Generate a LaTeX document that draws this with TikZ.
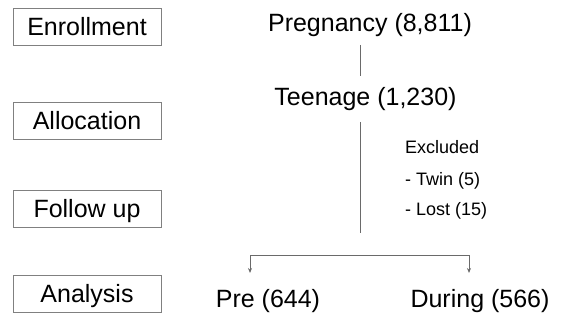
\documentclass[tikz,border=0pt]{standalone}
\usepackage{fontspec}
\setmainfont{Liberation Sans}
\usepackage{tikz}
\usetikzlibrary{arrows.meta}
\definecolor{grigio}{HTML}{808080}
\definecolor{linea}{HTML}{6A6A6A}

\begin{document}
\begin{tikzpicture}[x=1pt, y=-1pt,
    fase/.style={draw=grigio, line width=0.8pt, minimum width=148pt, minimum height=37pt,
        inner sep=0pt, text height=18pt, text depth=0pt, font=\fontsize{25}{30}\selectfont},
    voce/.style={anchor=base, inner sep=0pt, font=\fontsize{25}{30}\selectfont},
    nota/.style={anchor=base west, inner sep=0pt, font=\fontsize{18}{22}\selectfont},
    ramo/.style={draw=linea, line width=0.8pt}]

        % Cornice (dimensioni del riferimento)
        \useasboundingbox (0,0) rectangle (562,320);

        % Fasi (colonna sinistra)
        \node[fase] (enroll) at (87,26.5) {Enrollment};
        \node[fase] (alloc)  at (87,121)  {Allocation};
        \node[fase] (follow) at (87,209)  {Follow up};
        \node[fase] (anal)   at (87,293.5) {Analysis};

        % Gruppi (colonna destra)
        \node[voce] (preg) at (370,32)   {Pregnancy (8,811)};
        \node[voce] (teen) at (365.5,106) {Teenage (1,230)};
        \node[voce] (pre)  at (268,307)  {Pre (644)};
        \node[voce] (dur)  at (480,307)  {During (566)};

        % Esclusi
        \node[nota] (excl) at (405,154) {Excluded};
        \node[nota] (twin) at (405,186) {- Twin (5)};
        \node[nota] (lost) at (405,216) {- Lost (15)};

        % Estremi delle linee
        \coordinate (a1) at (360,45);
        \coordinate (a2) at (360,76);
        \coordinate (b1) at (360,122);
        \coordinate (b2) at (360,233);
        \coordinate (kL) at (250,255);
        \coordinate (kR) at (469,255);
        \coordinate (fL) at (250,273);
        \coordinate (fR) at (469,273);

        % Collegamenti
        \draw[ramo] (a1) -- (a2);
        \draw[ramo] (b1) -- (b2);
        \draw[ramo, {Stealth[length=5pt,width=4pt]}-{Stealth[length=5pt,width=4pt]}]
        (fL) -- (kL) -- (kR) -- (fR);
    \end{tikzpicture}
\end{document}
